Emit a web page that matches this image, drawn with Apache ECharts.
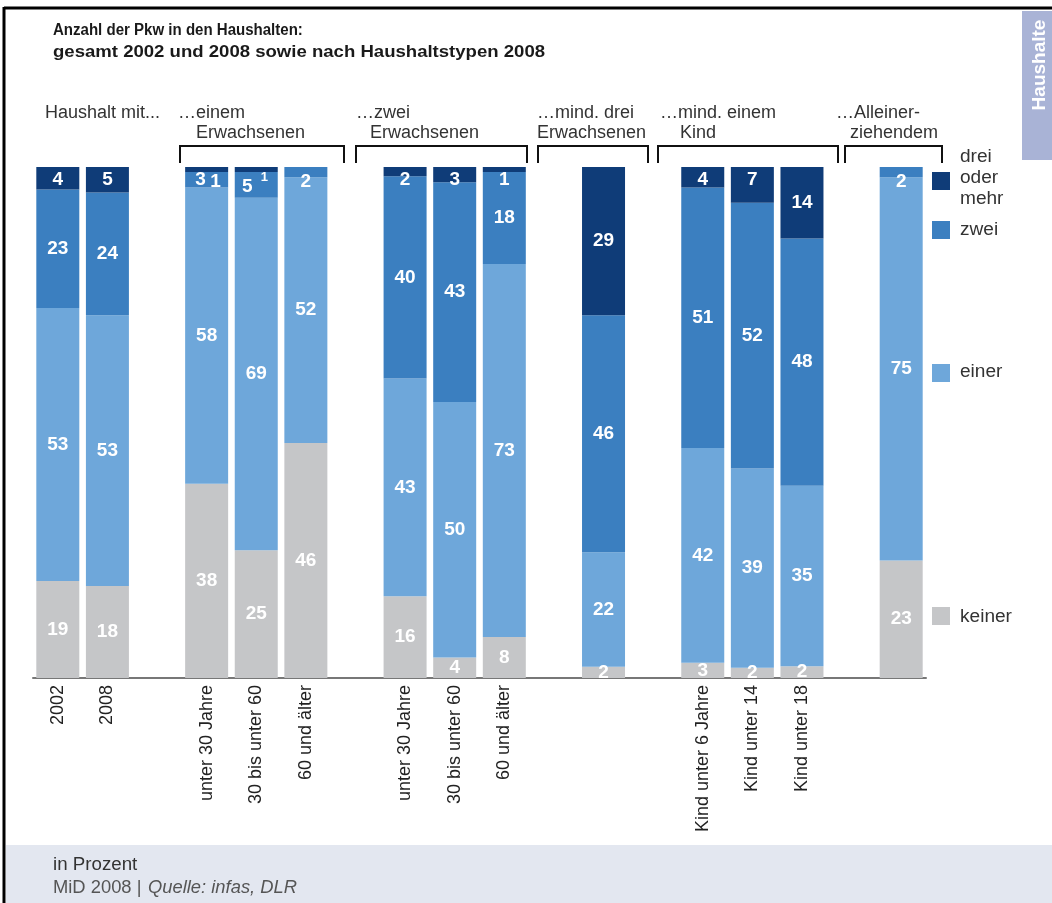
<!DOCTYPE html>
<html>
<head>
<meta charset="utf-8">
<script src="https://cdn.jsdelivr.net/npm/echarts@6/dist/echarts.min.js"></script>
<style>
html,body{margin:0;padding:0;background:#fff;}
#chart{width:1052px;height:903px;}
</style>
</head>
<body>
<div id="chart"></div>
<script>
// ---- data (in Prozent; labels show rounded values); null = gap between groups ----
const categories = ['2002','2008','','unter 30 Jahre','30 bis unter 60','60 und älter','','unter 30 Jahre','30 bis unter 60','60 und älter','','','','Kind unter 6 Jahre','Kind unter 14','Kind unter 18','',''];
const keiner = [19,18,null,38,25,46,null,16,4,8,null,2.2,null,3,2,2.3,null,23];
const einer  = [53.4,53,null,58,69,52,null,42.6,50,73,null,22.4,null,42,39,35.3,null,75];
const zwei   = [23.2,24,null,3,5,2,null,39.6,43,18,null,46.4,null,51,52,48.4,null,2];
const drei   = [4.4,5,null,1,1,0,null,1.8,3,1,null,29,null,4,7,14,null,0];
const seriesNames = ['keiner','einer','zwei','drei oder mehr'];
const groupHeads = [
  ['Haushalt mit...',''],
  ['…einem','Erwachsenen'],
  ['…zwei','Erwachsenen'],
  ['…mind. drei','Erwachsenen'],
  ['…mind. einem','Kind'],
  ['…Alleiner-','ziehendem']
];

const colors = ['#c5c6c8','#6ea7da','#3b7fc0','#0f3c78'];
const FONT = '"Liberation Sans", Arial, sans-serif';

// label placement tweaks for small segments
const labelTweaks = {
  '2-3': {offset:[-6,0]},
  '3-3': {position:'insideTop', offset:[9,0]},
  '2-4': {offset:[-9,2]},
  '3-4': {position:'insideTop', offset:[8,-1], fontSize:13},
  '2-5': {position:'insideTop'},
  '2-17': {position:'insideTop'}
};

function buildSeries(values, si){
  return {
    name: seriesNames[si],
    type: 'bar',
    stack: 'total',
    barWidth: 43,
    itemStyle: {color: colors[si]},
    label: {
      show: true, position: 'inside', color: '#fff',
      fontFamily: FONT, fontWeight: 'bold', fontSize: 19,
      formatter: p => (p.value ? String(Math.round(p.value)) : '')
    },
    emphasis: {disabled: true},
    data: values.map((v, ci) => {
      let t = labelTweaks[si + '-' + ci];
      if (!t && si === 3 && v !== null && v < 10) t = {position:'insideTop', distance:3};
      if (t) return {value: v, label: Object.assign({}, t)};
      return v;
    })
  };
}

const series = [keiner, einer, zwei, drei].map(buildSeries);

// graphics: frame, title, group headers, brackets, tab, footer, legend labels
const g = [];
function txt(x, y, s, font, fill, sx){
  g.push({type:'text', x:x, y:y, scaleX: sx || 1, silent:true,
    style:{text:s, fill:fill, font:font, textAlign:'left', textVerticalAlign:'middle'}});
}
g.push({type:'rect', shape:{x:6,y:845,width:1046,height:58}, style:{fill:'#e3e7f0'}, silent:true});
g.push({type:'line', shape:{x1:4,y1:8,x2:1052,y2:8}, style:{stroke:'#000',lineWidth:3}});
g.push({type:'line', shape:{x1:4,y1:7,x2:4,y2:903}, style:{stroke:'#000',lineWidth:3}});
g.push({type:'rect', shape:{x:1022,y:11,width:30,height:149}, style:{fill:'#a9b3d6'}});
g.push({type:'text', x:1040, y:65, rotation:Math.PI/2,
  style:{text:'Haushalte', fill:'#fff', font:'bold 19px '+FONT, textAlign:'center', textVerticalAlign:'middle'}});
txt(53, 31, 'Anzahl der Pkw in den Haushalten:', 'bold 16px '+FONT, '#1a1a1a', 0.94);
txt(53, 53, 'gesamt 2002 und 2008 sowie nach Haushaltstypen 2008', 'bold 16px '+FONT, '#1a1a1a', 1.16);
const headPos = [[45,0],[178,196],[356,370],[537,537],[660,680],[836,850]];
groupHeads.forEach((h, i) => {
  txt(headPos[i][0], 113, h[0], '18px '+FONT, '#333');
  if (h[1]) txt(headPos[i][1], 133, h[1], '18px '+FONT, '#333');
});
const brackets = [[180,344],[356,527],[538,648],[658,838],[845,942]];
brackets.forEach(b => {
  g.push({type:'polyline', shape:{points:[[b[0],163],[b[0],146],[b[1],146],[b[1],163]]}, style:{stroke:'#111',lineWidth:2,fill:null}});
});
txt(53, 865, 'in Prozent', '18px '+FONT, '#333', 1.04);
txt(53, 888, 'MiD 2008 | ', '18px '+FONT, '#555', 1.02);
txt(148, 888, 'Quelle: infas, DLR', 'italic 18px '+FONT, '#555', 1.02);
// legend labels
txt(960, 157, 'drei', '18px '+FONT, '#333', 1.06);
txt(960, 178, 'oder', '18px '+FONT, '#333', 1.06);
txt(960, 199, 'mehr', '18px '+FONT, '#333', 1.06);
txt(960, 230, 'zwei', '18px '+FONT, '#333', 1.06);
txt(960, 372, 'einer', '18px '+FONT, '#333', 1.06);
txt(960, 617, 'keiner', '18px '+FONT, '#333', 1.06);

function legendAt(name, top){
  return {
    data:[name], left:932, top:top, orient:'vertical', padding:0,
    itemWidth:18, itemHeight:18, icon:'rect', selectedMode:false,
    formatter: () => '',
    textStyle:{fontSize:1}
  };
}

const option = {
  animation: false,
  backgroundColor: '#fff',
  grid: {left:33, right:126, top:167, bottom:225, containLabel:false},
  xAxis: {
    type:'category', data: categories,
    axisLine:{show:true, lineStyle:{color:'#777', width:2}},
    axisTick:{show:false},
    axisLabel:{rotate:90, interval:0, color:'#222', fontFamily:FONT, fontSize:18, margin:7}
  },
  yAxis: {type:'value', min:0, max:100, show:false},
  legend: [
    legendAt('drei oder mehr', 172),
    legendAt('zwei', 221),
    legendAt('einer', 364),
    legendAt('keiner', 607)
  ],
  graphic: g,
  series: series
};

const chart = echarts.init(document.getElementById('chart'), null, {renderer:'canvas'});
chart.setOption(option);
</script>
</body>
</html>
